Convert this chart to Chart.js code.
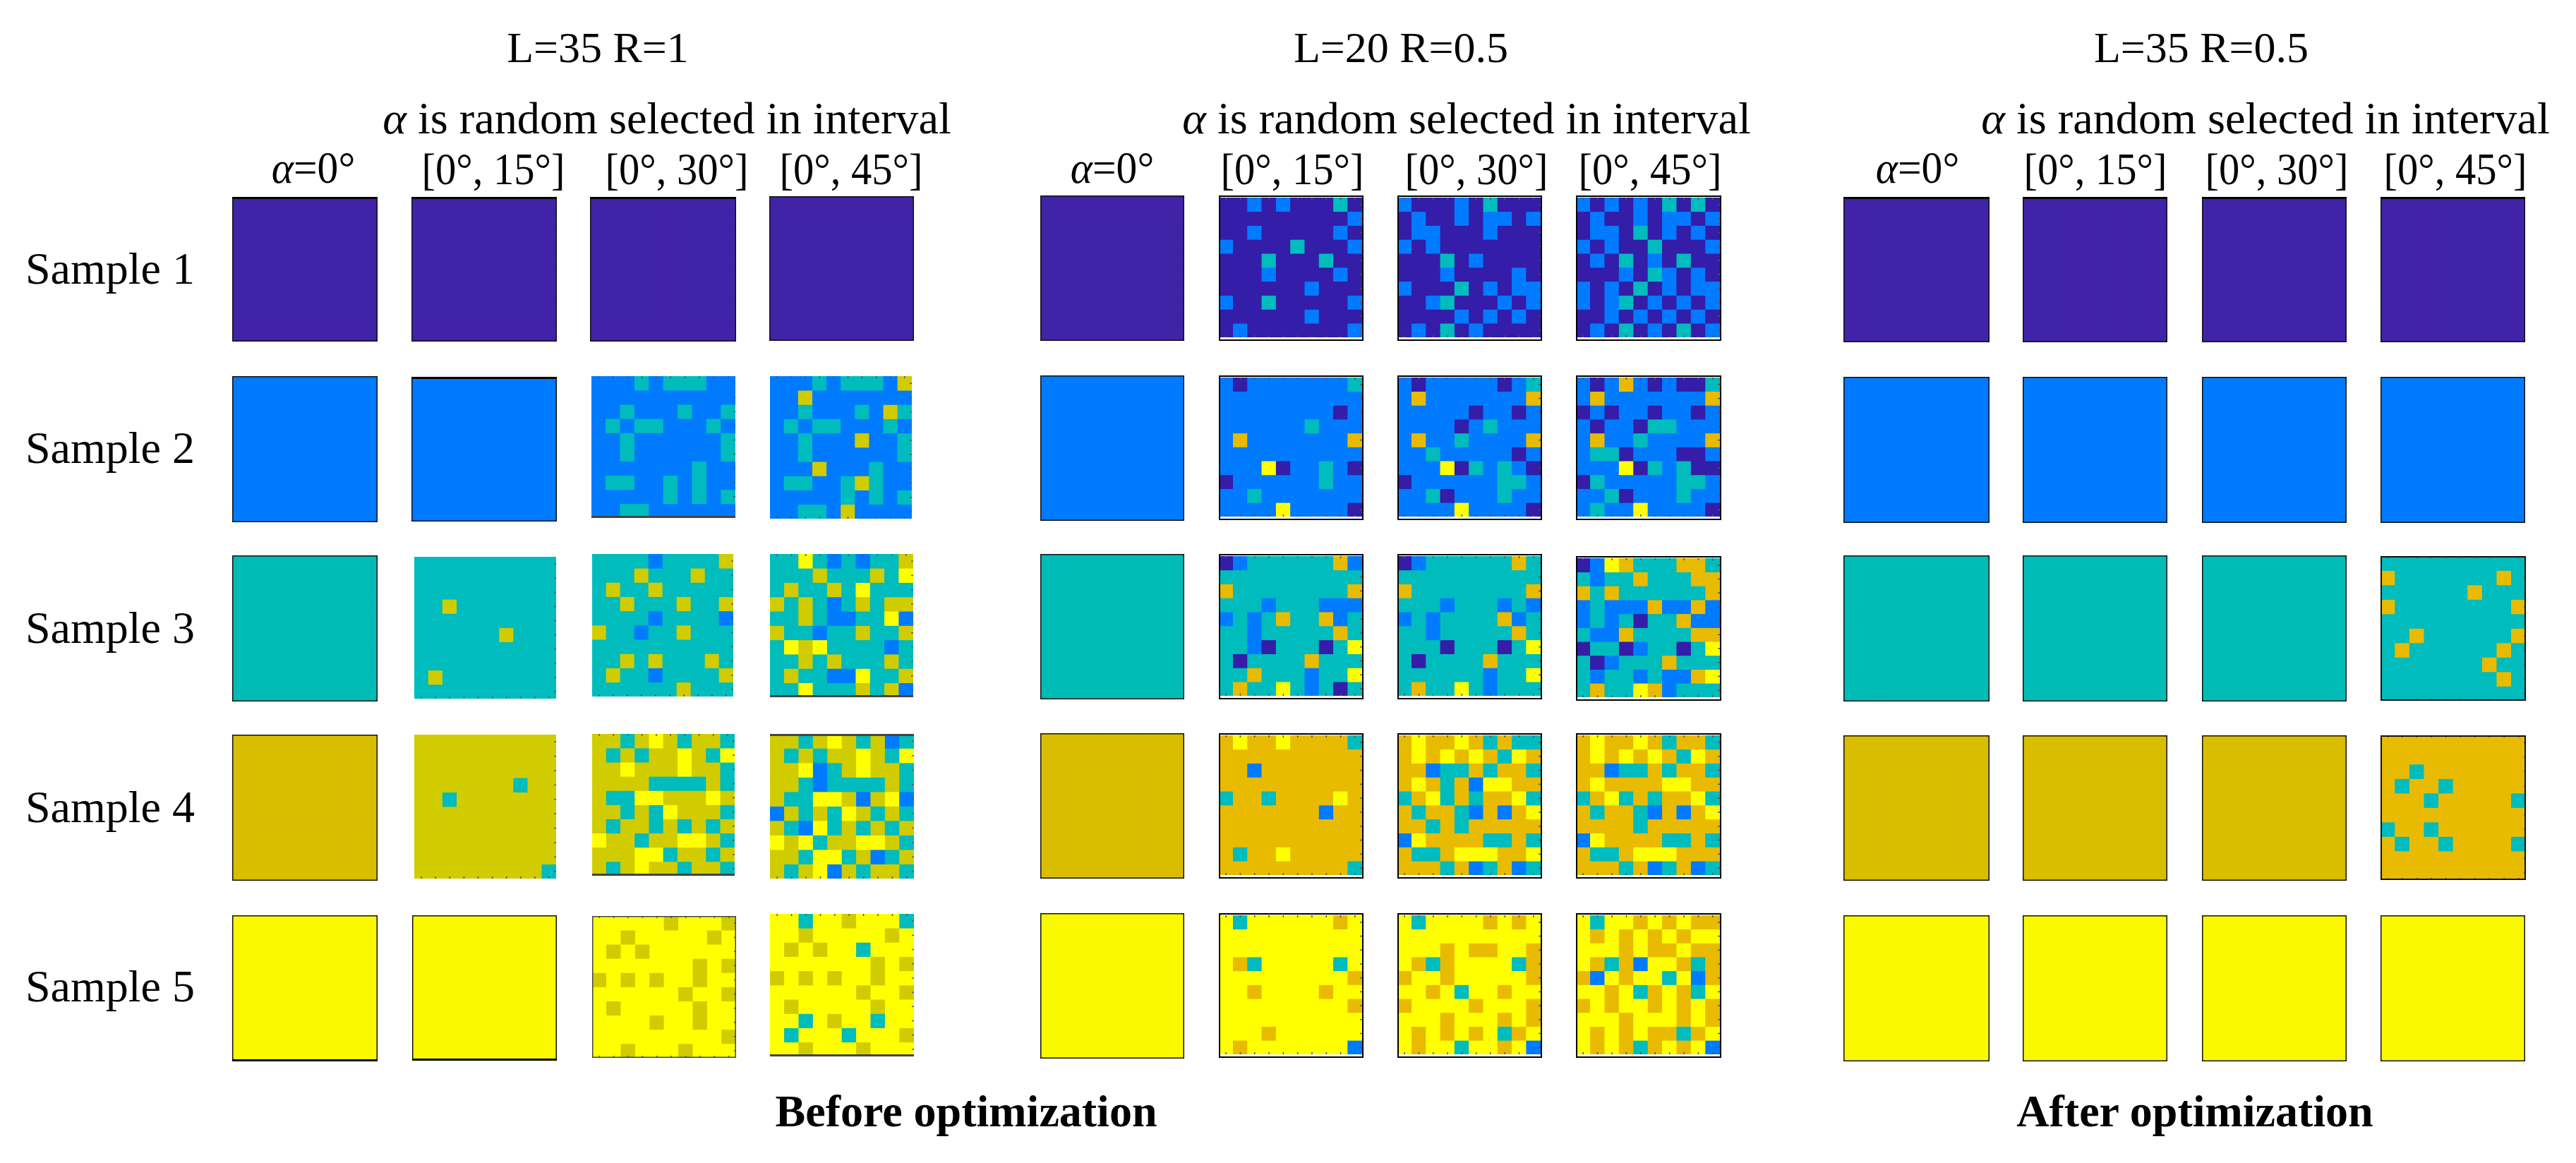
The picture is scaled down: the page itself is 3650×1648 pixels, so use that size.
<!DOCTYPE html>
<html>
<head>
<meta charset="utf-8">
<title>Samples before and after optimization</title>
<script src="https://cdn.jsdelivr.net/npm/chart.js@4"></script>
<style>
  html, body { margin:0; padding:0; background:#fff; }
  #page { position:relative; width:3650px; height:1648px; overflow:hidden; font-family:"Liberation Serif", serif; color:#000; }
  #page canvas { position:absolute; }
  .lbl { position:absolute; white-space:nowrap; line-height:1; }
</style>
</head>
<body>
<div id="page"></div>
<script>
// cell levels: 0 purple, 1 blue, 2 teal, 3 gold, 4 yellow. one string per row, top to bottom
const samples = ['Sample 1','Sample 2','Sample 3','Sample 4','Sample 5'];
const groupTitles = ['L=35 R=1','L=20 R=0.5','L=35 R=0.5'];
const intervalText = 'is random selected in interval';
const intervals = ['[0°, 15°]','[0°, 30°]','[0°, 45°]'];
const footers = ['Before optimization','After optimization'];

const flat0 = ['0000000000','0000000000','0000000000','0000000000','0000000000','0000000000','0000000000','0000000000','0000000000','0000000000'];
const flat1 = ['1111111111','1111111111','1111111111','1111111111','1111111111','1111111111','1111111111','1111111111','1111111111','1111111111'];
const flat2 = ['2222222222','2222222222','2222222222','2222222222','2222222222','2222222222','2222222222','2222222222','2222222222','2222222222'];
const flat3 = ['3333333333','3333333333','3333333333','3333333333','3333333333','3333333333','3333333333','3333333333','3333333333','3333333333'];
const flat4 = ['4444444444','4444444444','4444444444','4444444444','4444444444','4444444444','4444444444','4444444444','4444444444','4444444444'];

// L=35 R=1
const a_s2_c3 = ['1112122211','1111111111','1121112112','1212211121','1121111112','1121111112','1111111211','1221121211','1111121212','1122111111'];
const a_s2_c4 = ['1112122213','1131111111','1121112132','1212211121','1121113112','1121111112','1113111211','1221123211','1111121212','1122131111'];
const a_s3_c2 = ['2222222222','2222222222','2222222222','2232222222','2222222222','2222223222','2222222222','2222222222','2322222222','2222222222'];
const a_s3_c3 = ['2222122223','2223222322','2322322222','2232223223','2222122221','3221223222','2222222222','2232322232','2322122223','2222223222'];
const a_s3_c4 = ['2242121223','2223222324','2322324222','3232123233','2232112241','3221223223','2434222212','2232322232','2322114223','2242223231'];
const a_s4_c2 = ['3333333333','3333333333','3333333333','3333333233','3323333333','3333333333','3333333333','3333333333','3333333333','3333333332'];
const a_s4_c3 = ['3323432332','3232334324','3343334332','3333222232','3224433343','3323243332','3233232323','4332334432','3334423323','3234332332'];
const a_s4_c4 = ['3323432312','3232334324','3341234332','3321222232','3224431341','1323243232','3214232323','4342334432','3324423123','3234132332'];
const a_s5_c3 = ['4444434443','4434444434','4343444444','4444444343','3434344344','4444443443','4344444344','4444344344','4444444443','4434443444'];
const a_s5_c4 = ['4424434442','4434444434','4343442444','4444444343','3434344344','4444443443','4344444344','4424344244','4244424443','4434443444'];

// L=20 R=0.5
const b_s1_c2 = ['0010100020','0000000001','0010000010','1000020001','0002000200','0001000010','0000001000','1002000001','0000001000','0100000001'];
const b_s1_c3 = ['1000102000','0100101101','0110001000','1010000000','0002010000','0001000010','1000201011','0012000101','0000101010','0102010000'];
const b_s1_c4 = ['1010102020','0100101101','0110201010','1010020001','0102010200','0001021010','1010201011','1012010101','0010101010','0102010201'];
const b_s2_c2 = ['1011111112','1111111111','1111111101','1111112111','1311111113','1111111111','1114011210','0111111211','1121111111','1111411110'];
const b_s2_c3 = ['1011111012','1311111113','1111101101','1111012111','1311211113','1121111101','1114021210','0111111221','1120111211','1111411110'];
const b_s2_c4 = ['1013101002','1311111113','0101101101','1011022111','1311211113','1220111001','1114021200','0211111221','1120111211','1211411110'];
const b_s3_c2 = ['0122222231','2222222222','3222222223','2221222111','1212322312','2212222232','2210222024','2022223222','2232221224','2322421202'];
const b_s3_c3 = ['0122222232','2222222222','3222222223','2221222121','1212222312','2212222232','2220222024','2022223222','2222221224','2322421222'];
const b_s3_c4 = ['0143222332','2122322233','3232222223','1211131131','1212022311','2113222233','0220122024','2012223222','2122121134','2322431222'];
const b_s4_c2 = ['3433433332','3333333333','3313333333','3333333333','2332333343','3333333133','3333333333','3333333333','3233433333','3333333332'];
const b_s4_c3 = ['3433432322','3434343243','3312232332','3432314433','2342323342','3233213134','3323233333','1433332232','3223444334','3332312312'];
const b_s4_c4 = ['3433432332','3434343243','3312232332','3433334433','2342323342','3233213134','3333233333','1433332232','3223444333','3332312312'];
const b_s5_c2 = ['4244444434','4444444444','4444444444','4324444424','4444444443','4434444344','4444444443','4444444444','4443444444','4344444441'];
const b_s5_c3 = ['4244443434','4444444444','4443433443','4323444423','3443444443','4434244344','3444434443','4443444343','4343434234','4344244341'];
const b_s5_c4 = ['4244343433','4343434344','4443433433','4323144323','3143442413','4434234324','3434434343','4443444343','4343433234','4343234341'];

// L=35 R=0.5
const c_s3_c4 = ['2222222222','3222222232','2222223222','3222222223','2222222222','2232222223','2322222232','2222222322','2222222232','2222222222'];
const c_s4_c4 = ['3333333333','3333333333','3323333333','3233233333','3332333332','3333333333','2332333333','3233233332','3333333333','3333333333'];

const palFlat = ['#4123a8','#007bff','#00bcb6','#d9be00','#faf900'];
const palOlive = ['#4123a8','#007bff','#00bcbc','#d0cc00','#ffff00'];
const palGold = ['#341da8','#007bff','#00bcbc','#e8bb00','#ffff00'];

const styles = {
  flat:  {frame:'#111', lw:1.5, ticks:'', edges:''},
  flatT: {frame:'#111', lw:1.5, ticks:'', edges:'t', edgeColor:'#000'},
  flatB: {frame:'#111', lw:1.5, ticks:'', edges:'b', edgeColor:'#000'},
  bare:  {ticks:'rb', edges:''},
  ticks: {ticks:'trb', edges:''},
  tickB: {ticks:'trb', edges:'b', edgeColor:'#444'},
  tickT: {ticks:'trb', edges:'t', edgeColor:'#444'},
  boxed: {frame:'#000', lw:2, ticks:'trb', edges:'', pad:{top:3,right:2,bottom:5,left:0}},
  ruled: {frame:'#444', lw:1.5, ticks:'trb', edges:''},
  ruledK:{frame:'#111', lw:2, ticks:'trb', edges:''}
};

// group, sample row, column, levels, palette, left, top, right, bottom, style
const panels = [
  [0,0,0,flat0,palFlat,329,279,535,484,'flatT'],[0,0,1,flat0,palFlat,583,279,789,484,'flatT'],[0,0,2,flat0,palFlat,836,279,1043,484,'flatT'],[0,0,3,flat0,palFlat,1090,278,1295,483,'flat'],
  [0,1,0,flat1,palFlat,329,533,535,740,'flat'],[0,1,1,flat1,palFlat,583,534,789,739,'flatT'],[0,1,2,a_s2_c3,palOlive,838,533,1042,734,'tickB'],[0,1,3,a_s2_c4,palOlive,1091,533,1292,735,'ticks'],
  [0,2,0,flat2,palFlat,329,787,535,994,'flat'],[0,2,1,a_s3_c2,palOlive,587,789,788,990,'bare'],[0,2,2,a_s3_c3,palOlive,839,785,1039,987,'bare'],[0,2,3,a_s3_c4,palOlive,1091,785,1294,988,'tickB'],
  [0,3,0,flat3,palFlat,329,1041,535,1248,'flat'],[0,3,1,a_s4_c2,palOlive,587,1041,788,1245,'bare'],[0,3,2,a_s4_c3,palOlive,839,1040,1041,1241,'tickB'],[0,3,3,a_s4_c4,palOlive,1091,1040,1295,1245,'tickT'],
  [0,4,0,flat4,palFlat,329,1297,535,1504,'flatB'],[0,4,1,flat4,palFlat,584,1297,789,1503,'flatB'],[0,4,2,a_s5_c3,palOlive,839,1298,1043,1499,'ruled'],[0,4,3,a_s5_c4,palOlive,1091,1295,1295,1497,'tickB'],

  [1,0,0,flat0,palFlat,1474,277,1678,483,'flat'],[1,0,1,b_s1_c2,palGold,1727,277,1932,483,'boxed'],[1,0,2,b_s1_c3,palGold,1980,277,2185,483,'boxed'],[1,0,3,b_s1_c4,palGold,2233,277,2439,483,'boxed'],
  [1,1,0,flat1,palFlat,1474,532,1678,738,'flat'],[1,1,1,b_s2_c2,palGold,1727,532,1932,737,'boxed'],[1,1,2,b_s2_c3,palGold,1980,532,2185,737,'boxed'],[1,1,3,b_s2_c4,palGold,2233,532,2439,737,'boxed'],
  [1,2,0,flat2,palFlat,1474,785,1678,991,'flat'],[1,2,1,b_s3_c2,palGold,1727,785,1932,991,'boxed'],[1,2,2,b_s3_c3,palGold,1980,785,2185,991,'boxed'],[1,2,3,b_s3_c4,palGold,2233,788,2439,993,'boxed'],
  [1,3,0,flat3,palFlat,1474,1039,1678,1245,'flat'],[1,3,1,b_s4_c2,palGold,1727,1039,1932,1245,'boxed'],[1,3,2,b_s4_c3,palGold,1980,1039,2185,1245,'boxed'],[1,3,3,b_s4_c4,palGold,2233,1039,2439,1245,'boxed'],
  [1,4,0,flat4,palFlat,1474,1294,1678,1500,'flat'],[1,4,1,b_s5_c2,palGold,1727,1294,1932,1499,'boxed'],[1,4,2,b_s5_c3,palGold,1980,1294,2185,1499,'boxed'],[1,4,3,b_s5_c4,palGold,2233,1294,2439,1499,'boxed'],

  [2,0,0,flat0,palFlat,2612,279,2819,485,'flatT'],[2,0,1,flat0,palFlat,2866,279,3071,485,'flatT'],[2,0,2,flat0,palFlat,3120,279,3325,485,'flatT'],[2,0,3,flat0,palFlat,3373,279,3578,485,'flatT'],
  [2,1,0,flat1,palFlat,2612,534,2819,741,'flat'],[2,1,1,flat1,palFlat,2866,534,3071,741,'flat'],[2,1,2,flat1,palFlat,3120,534,3325,741,'flat'],[2,1,3,flat1,palFlat,3373,534,3578,741,'flat'],
  [2,2,0,flat2,palFlat,2612,787,2819,994,'flat'],[2,2,1,flat2,palFlat,2866,787,3071,994,'flat'],[2,2,2,flat2,palFlat,3120,787,3325,994,'flat'],[2,2,3,c_s3_c4,palGold,3373,788,3579,993,'ruledK'],
  [2,3,0,flat3,palFlat,2612,1042,2819,1248,'flat'],[2,3,1,flat3,palFlat,2866,1042,3071,1248,'flat'],[2,3,2,flat3,palFlat,3120,1042,3325,1248,'flat'],[2,3,3,c_s4_c4,palGold,3373,1042,3579,1247,'ruledK'],
  [2,4,0,flat4,palFlat,2612,1297,2819,1504,'flat'],[2,4,1,flat4,palFlat,2866,1297,3071,1504,'flat'],[2,4,2,flat4,palFlat,3120,1297,3325,1504,'flat'],[2,4,3,flat4,palFlat,3373,1297,3578,1504,'flat']
];

const page = document.getElementById('page');

// base colour behind the bars so the half pixel seams between cells dont show, frame and small ticks on top
const panelDress = {
  id:'panelDress',
  beforeDatasetsDraw(chart, args, opts){
    const {ctx, chartArea:a} = chart;
    ctx.save();
    ctx.fillStyle = opts.base;
    ctx.fillRect(a.left, a.top, a.right-a.left, a.bottom-a.top);
    ctx.restore();
  },
  afterDatasetsDraw(chart, args, opts){
    const {ctx, chartArea:a, scales} = chart;
    const st = opts.style;
    ctx.save();
    ctx.fillStyle = '#555';
    for(let i=0;i<10;i++){
      const px = scales.x.getPixelForValue(i);
      const py = scales.y.getPixelForValue(i+0.5);
      if(st.ticks.includes('t')) ctx.fillRect(px-0.75, a.top, 1.5, 3);
      if(st.ticks.includes('b')) ctx.fillRect(px-0.75, a.bottom-3, 1.5, 3);
      if(st.ticks.includes('r')) ctx.fillRect(a.right-3, py-0.75, 3, 1.5);
    }
    if(st.frame){
      ctx.strokeStyle = st.frame;
      ctx.lineWidth = st.lw;
      ctx.strokeRect(st.lw/2, st.lw/2, chart.width-st.lw, chart.height-st.lw);
    }
    if(st.edges){
      ctx.fillStyle = st.edgeColor;
      if(st.edges.includes('t')) ctx.fillRect(0, 0, chart.width, 3);
      if(st.edges.includes('b')) ctx.fillRect(0, chart.height-3, chart.width, 3);
    }
    ctx.restore();
  }
};

function drawPanel(p){
  const [group, row, col, levels, palette, left, top, right, bottom, styleName] = p;
  const style = styles[styleName];
  const cv = document.createElement('canvas');
  cv.style.left = left+'px';
  cv.style.top = top+'px';
  cv.width = right-left;
  cv.height = bottom-top;
  page.appendChild(cv);
  new Chart(cv, {
    type:'bar',
    data:{
      labels:[0,1,2,3,4,5,6,7,8,9],
      datasets: levels.map(rowStr => ({
        data: rowStr.split('').map(() => 1),
        backgroundColor: rowStr.split('').map(c => palette[+c]),
        borderWidth:0,
        barPercentage:1,
        categoryPercentage:1
      }))
    },
    options:{
      responsive:false,
      animation:false,
      layout:{padding: style.pad || 0},
      scales:{
        x:{display:false, stacked:true},
        y:{display:false, stacked:true, min:0, max:10, reverse:true}
      },
      plugins:{
        legend:{display:false},
        tooltip:{enabled:false},
        panelDress:{base:palette[row], style}
      }
    },
    plugins:[panelDress]
  });
}
panels.forEach(drawPanel);

function label(html, centerX, baseline, size, weight, squeeze){
  const d = document.createElement('div');
  d.className = 'lbl';
  d.innerHTML = html;
  d.style.fontSize = size+'px';
  d.style.left = centerX+'px';
  d.style.top = (baseline - 0.8375*size)+'px';
  d.style.transform = 'translateX(-50%)' + (squeeze ? ' scaleX('+squeeze+')' : '');
  if(weight) d.style.fontWeight = weight;
  page.appendChild(d);
}

const alpha = '<i>α</i>';
const titleX = [847,1985,3119];
const intervalTextX = [945,2078,3210];
const zeroX = [444,1576,2717];
const intervalX = [[699,959,1206],[1831,2092,2338],[2969,3226,3479]];
groupTitles.forEach((t,g) => {
  label(t, titleX[g], 88, 62);
  label(alpha+' '+intervalText, intervalTextX[g], 190, 64.2);
  label(alpha+'=0°', zeroX[g], 260, 64, null, 0.93);
  intervals.forEach((iv,k) => label(iv, intervalX[g][k], 262, 64, null, 0.915));
});
const sampleY = [403,657,912,1166,1420];
samples.forEach((s,i) => label(s, 156, sampleY[i], 64));
label(footers[0], 1369, 1597, 64, 'bold');
label(footers[1], 3110, 1597, 64, 'bold');
</script>
</body>
</html>
